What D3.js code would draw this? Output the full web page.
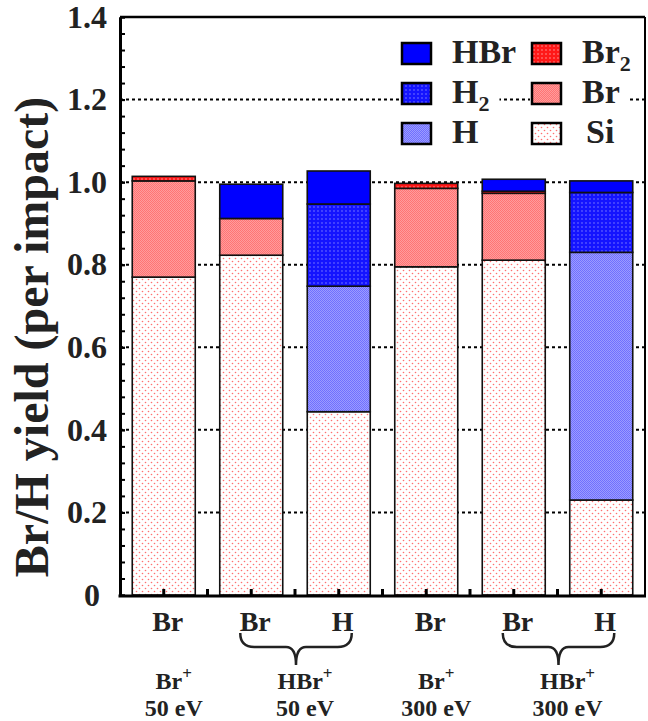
<!DOCTYPE html>
<html>
<head>
<meta charset="utf-8">
<script src="https://cdn.jsdelivr.net/npm/d3@7"></script>
<style>
  body { margin: 0; background: #fff; }
  text { font-family: "Liberation Serif", "Times New Roman", serif; font-weight: bold; fill: #222; }
</style>
</head>
<body>
<div class="chart"></div>
<script>
var svgWidth = 648;
var svgHeight = 721;

// bars, left to right
var bars = ["Br+ 50", "HBr+ 50 Br", "HBr+ 50 H", "Br+ 300", "HBr+ 300 Br", "HBr+ 300 H"];
var barLabels = ["Br", "Br", "H", "Br", "Br", "H"];

// yields per impact
var si  = [0.770, 0.823, 0.444, 0.795, 0.811, 0.230];
var br  = [0.233, 0.089, 0.000, 0.190, 0.162, 0.000];
var br2 = [0.011, 0.000, 0.000, 0.012, 0.005, 0.000];
var h   = [0.000, 0.000, 0.304, 0.000, 0.000, 0.600];
var h2  = [0.000, 0.000, 0.199, 0.000, 0.000, 0.145];
var hbr = [0.000, 0.083, 0.080, 0.000, 0.029, 0.028];

// groups under the axis
var groupBars = [[0], [1, 2], [3], [4, 5]];
var groupIon = ["Br", "HBr", "Br", "HBr"];
var groupEnergy = ["50 eV", "50 eV", "300 eV", "300 eV"];

var yTicks = [0, 0.2, 0.4, 0.6, 0.8, 1.0, 1.2, 1.4];
var gridTicks = [0.2, 0.4, 0.6, 0.8, 1.0, 1.2];

var keys = ["Si", "Br", "Br2", "H", "H2", "HBr"];
var series = { Si: si, Br: br, Br2: br2, H: h, H2: h2, HBr: hbr };

var margin = { top: 17, right: 3, bottom: 126, left: 120 };
var width = svgWidth - margin.left - margin.right;
var height = svgHeight - margin.top - margin.bottom;

var svg = d3.select(".chart")
  .append("svg")
  .attr("width", svgWidth)
  .attr("height", svgHeight);

// fill patterns
var defs = svg.append("defs");

function dotPattern(id, size, bg, dot, r, pts) {
  var p = defs.append("pattern")
    .attr("id", id)
    .attr("patternUnits", "userSpaceOnUse")
    .attr("width", size)
    .attr("height", size);
  p.append("rect").attr("width", size).attr("height", size).attr("fill", bg);
  pts.forEach(function(pt) {
    p.append("circle").attr("cx", pt[0]).attr("cy", pt[1]).attr("r", r).attr("fill", dot);
  });
}

function checkPattern(id, c1, c2) {
  var p = defs.append("pattern")
    .attr("id", id)
    .attr("patternUnits", "userSpaceOnUse")
    .attr("width", 2)
    .attr("height", 2);
  p.append("rect").attr("width", 2).attr("height", 2).attr("fill", c1);
  p.append("rect").attr("width", 1).attr("height", 1).attr("fill", c2);
  p.append("rect").attr("x", 1).attr("y", 1).attr("width", 1).attr("height", 1).attr("fill", c2);
}

dotPattern("pSi", 6, "#ffffff", "#ff7070", 0.8, [[1.5, 1.5], [4.5, 4.5]]);
checkPattern("pBr", "#ff7474", "#ff9c9c");
dotPattern("pBr2", 4, "#ff1818", "#ffb0b0", 0.7, [[2, 2]]);
checkPattern("pH", "#7070ff", "#9c9cff");
dotPattern("pH2", 4, "#1414ff", "#9090ff", 0.7, [[2, 2]]);

var fills = { Si: "url(#pSi)", Br: "url(#pBr)", Br2: "url(#pBr2)", H: "url(#pH)", H2: "url(#pH2)", HBr: "#0000ff" };

var chartGroup = svg.append("g")
  .attr("transform", `translate(${margin.left}, ${margin.top})`);

var xScale = d3.scaleBand()
  .domain(bars)
  .range([0, width])
  .paddingInner(0.28)
  .paddingOuter(0.14);

var yScale = d3.scaleLinear()
  .domain([0, 1.4])
  .range([height, 0]);

// dotted grid lines
chartGroup.selectAll(".grid")
  .data(gridTicks)
  .enter()
  .append("line")
  .attr("x1", 0)
  .attr("x2", width)
  .attr("y1", d => yScale(d))
  .attr("y2", d => yScale(d))
  .attr("stroke", "#000")
  .attr("stroke-width", 2)
  .attr("stroke-dasharray", "3,3");

// stacked bars
var rows = bars.map(function(b, i) {
  var row = { bar: b };
  keys.forEach(k => row[k] = series[k][i]);
  return row;
});

var stacked = d3.stack().keys(keys)(rows);

stacked.forEach(function(layer) {
  chartGroup.selectAll(".seg-" + layer.key)
    .data(layer.filter(d => d[1] - d[0] > 0))
    .enter()
    .append("rect")
    .attr("x", d => xScale(d.data.bar))
    .attr("width", xScale.bandwidth())
    .attr("y", d => yScale(d[1]))
    .attr("height", d => yScale(d[0]) - yScale(d[1]))
    .attr("fill", fills[layer.key])
    .attr("stroke", "#111")
    .attr("stroke-width", 1.6);
});

// frame: top and right
chartGroup.append("line")
  .attr("x1", 0).attr("x2", width).attr("y1", 0).attr("y2", 0)
  .attr("stroke", "#000").attr("stroke-width", 2.5);
chartGroup.append("line")
  .attr("x1", width).attr("x2", width).attr("y1", 0).attr("y2", height)
  .attr("stroke", "#000").attr("stroke-width", 2);

// y axis, ticks pointing inward
var leftAxis = d3.axisLeft(yScale)
  .tickValues(yTicks)
  .tickSizeInner(-5)
  .tickSizeOuter(0)
  .tickPadding(13)
  .tickFormat(d => d === 0 ? "0" : d3.format(".1f")(d));

var yAxis = chartGroup.append("g").call(leftAxis);
yAxis.selectAll("text").style("font-size", "32px").attr("fill", "#222");
yAxis.selectAll(".tick").filter(d => d === 0).select("text").attr("dx", -7);

var minorAxis = d3.axisLeft(yScale)
  .tickValues(d3.range(0, 36).map(i => i * 0.04))
  .tickSizeInner(-5)
  .tickSizeOuter(0)
  .tickFormat("");
chartGroup.append("g").call(minorAxis);

chartGroup.selectAll(".domain").attr("stroke-width", 3).attr("stroke", "#000");
chartGroup.selectAll(".tick line").attr("stroke-width", 2).attr("stroke", "#000");

// x axis: small inward ticks at bar centres and between bars
var xTickPos = [];
bars.forEach(function(b, i) {
  var c = xScale(b) + xScale.bandwidth() / 2;
  xTickPos.push(c);
  if (i < bars.length - 1) xTickPos.push(c + xScale.step() / 2);
});

chartGroup.selectAll(".xtick")
  .data(xTickPos)
  .enter()
  .append("line")
  .attr("x1", d => d).attr("x2", d => d)
  .attr("y1", height).attr("y2", height - 6)
  .attr("stroke", "#000")
  .attr("stroke-width", 3);

chartGroup.append("line")
  .attr("x1", -1.5).attr("x2", width + 1).attr("y1", height + 1).attr("y2", height + 1)
  .attr("stroke", "#000").attr("stroke-width", 3);

// bar labels
chartGroup.selectAll(".barLabel")
  .data(bars)
  .enter()
  .append("text")
  .attr("x", (d, i) => xScale(d) + xScale.bandwidth() / 2 + 4)
  .attr("y", height + 36)
  .attr("text-anchor", "middle")
  .style("font-size", "28px")
  .text((d, i) => barLabels[i]);

// group labels and braces
function centerOf(i) { return xScale(bars[i]) + xScale.bandwidth() / 2; }

groupBars.forEach(function(g, gi) {
  var cx = d3.mean(g, centerOf) + 10;
  var t1 = chartGroup.append("text")
    .attr("x", cx)
    .attr("y", height + 94)
    .attr("text-anchor", "middle")
    .style("font-size", "24px");
  t1.append("tspan").text(groupIon[gi]);
  t1.append("tspan").attr("dy", -10).style("font-size", "17px").text("+");

  chartGroup.append("text")
    .attr("x", cx)
    .attr("y", height + 120.5)
    .attr("text-anchor", "middle")
    .style("font-size", "24px")
    .text(groupEnergy[gi]);

  if (g.length > 1) {
    var xl = centerOf(g[0]) - 11;
    var xr = centerOf(g[g.length - 1]) + 13;
    var xm = (xl + xr) / 2;
    var yt = height + 38, yh = height + 52, yp = height + 70;
    chartGroup.append("path")
      .attr("d", `M${xl},${yt} Q${xl},${yh} ${xl + 14},${yh} L${xm - 10},${yh} Q${xm},${yh} ${xm},${yp} Q${xm},${yh} ${xm + 10},${yh} L${xr - 14},${yh} Q${xr},${yh} ${xr},${yt}`)
      .attr("fill", "none")
      .attr("stroke", "#222")
      .attr("stroke-width", 2.5);
  }
});

// y axis title
svg.append("text")
  .attr("transform", "rotate(-90)")
  .attr("x", -337)
  .attr("y", 48)
  .attr("text-anchor", "middle")
  .style("font-size", "48px")
  .text("Br/H yield (per impact)");

// legend
var legendKeys = ["HBr", "H2", "H", "Br2", "Br", "Si"];
var legendNames = ["HBr", "H", "H", "Br", "Br", "Si"];
var legendSubs = ["", "2", "", "2", "", ""];

legendKeys.forEach(function(k, i) {
  var col = Math.floor(i / 3), row = i % 3;
  var sx = 402 + col * 130, sy = 43 + row * 40;
  var bg = svg.append("rect").attr("fill", "#fff");
  svg.append("rect")
    .attr("x", sx).attr("y", sy)
    .attr("width", 29).attr("height", 21)
    .attr("fill", fills[k])
    .attr("stroke", "#000")
    .attr("stroke-width", 2.5);
  var t = svg.append("text")
    .attr("x", sx + 50 + (k === "Si" ? 4 : 0))
    .attr("y", sy + 20)
    .style("font-size", "34px");
  t.append("tspan").text(legendNames[i]);
  if (legendSubs[i]) t.append("tspan").attr("dy", 8).style("font-size", "22px").text(legendSubs[i]);
  var bb = t.node().getBBox();
  bg.attr("x", sx - 2).attr("y", sy - 4)
    .attr("width", bb.x + bb.width - sx + 12).attr("height", 30);
});
</script>
</body>
</html>
